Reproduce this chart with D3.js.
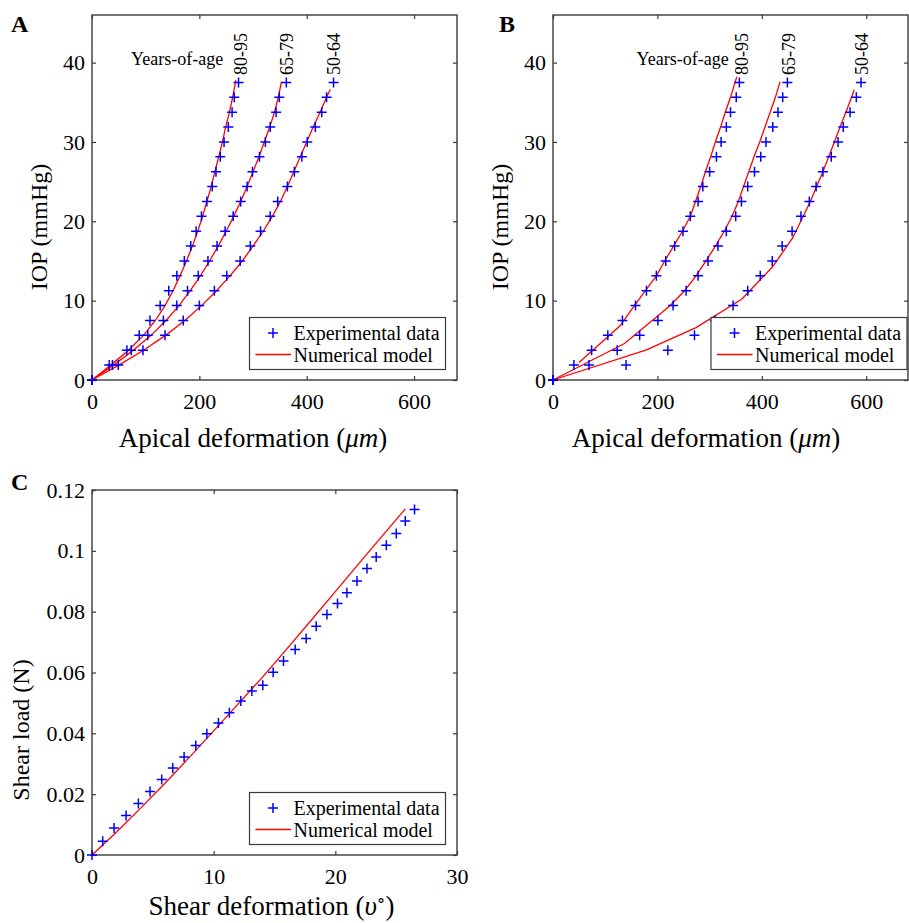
<!DOCTYPE html>
<html>
<head>
<meta charset="utf-8">
<script src="https://cdn.jsdelivr.net/npm/d3@7/dist/d3.min.js"></script>
<style>
  body { margin: 0; background: #fff; }
  text { font-family: "Liberation Serif", "Times New Roman", "DejaVu Serif", serif; fill: #000; }
</style>
</head>
<body>
<script>
// pressure steps (mmHg) of the experimental series
var iopLevels = [0, 1.875, 3.75, 5.625, 7.5, 9.375, 11.25, 13.125, 15, 16.875, 18.75,
  20.625, 22.5, 24.375, 26.25, 28.125, 30, 31.875, 33.75, 35.625, 37.5];
var ageGroups = ["80-95", "65-79", "50-64"];

// panel A - experimental apical deformation (um) per age group
var expA_8095 = [0, 32, 65, 88, 108, 127, 143, 158, 172, 184, 194, 204, 214, 224, 231, 239, 246, 254, 261, 265, 273];
var expA_6579 = [0, 38, 73, 104, 133, 158, 178, 198, 216, 233, 248, 263, 277, 289, 299, 312, 323, 332, 343, 349, 362];
var expA_5064 = [0, 49, 95, 136, 170, 200, 228, 251, 276, 295, 314, 332, 346, 364, 377, 391, 401, 416, 428, 437, 450];

// panel A - numerical model [deformation, IOP]
var modA_8095 = [[0, 0], [35, 1.875], [68, 3.75], [96, 5.625], [118, 7.5], [136, 9.375], [151, 11.25], [164, 13.125],
  [176, 15], [187, 16.875], [197, 18.75], [206, 20.625], [214, 22.5], [222, 24.375], [229, 26.25], [236, 28.125],
  [243, 30], [249, 31.875], [256, 33.75], [262, 35.625], [268, 37.8]];
var modA_6579 = [[0, 0], [40, 1.875], [77, 3.75], [110, 5.625], [138, 7.5], [162, 9.375], [183, 11.25], [202, 13.125],
  [219, 15], [235, 16.875], [250, 18.75], [264, 20.625], [277, 22.5], [289, 24.375], [300, 26.25], [311, 28.125],
  [321, 30], [331, 31.875], [340, 33.75], [347, 35.625], [353, 37.6]];
var modA_5064 = [[0, 0], [50, 1.875], [96, 3.75], [137, 5.625], [173, 7.5], [204, 9.375], [232, 11.25], [257, 13.125],
  [280, 15], [300, 16.875], [319, 18.75], [336, 20.625], [351, 22.5], [364, 24.375], [376, 26.25], [388, 28.125],
  [400, 30], [412, 31.875], [425, 33.75], [437, 35.625], [444, 36.6]];

// panel B - experimental apical deformation (um) per age group
var expB_8095 = [0, 40, 74, 105, 133, 158, 179, 198, 216, 233, 249, 263, 278, 287, 300, 313, 322, 332, 340, 351, 357];
var expB_6579 = [0, 69, 123, 166, 201, 230, 255, 278, 297, 316, 332, 350, 361, 373, 386, 398, 408, 421, 431, 440, 449];
var expB_5064 = [0, 140, 220, 271, 310, 345, 373, 397, 420, 439, 458, 475, 491, 504, 517, 533, 546, 556, 569, 581, 590];

// panel B - numerical model [deformation, IOP]
var modB_8095 = [[50, 2.2], [128, 6.8], [156, 9.375], [177, 11.25], [198, 13.125], [214, 15], [231, 16.875],
  [248, 18.75], [263, 20.625], [273, 22.5], [283, 24.375], [292, 26.25], [302, 28.125], [311, 30], [321, 31.875],
  [330, 33.75], [340, 35.625], [352, 38.2]];
var modB_6579 = [[0, 0], [137, 4.6], [223, 9.3], [252, 11.25], [274, 13.125], [293, 15], [311, 16.875], [328, 18.75],
  [343, 20.625], [355, 22.5], [365, 24.375], [375, 26.25], [385, 28.125], [396, 30], [406, 31.875], [416, 33.75],
  [426, 35.625], [435, 37.6]];
var modB_5064 = [[0, 0], [179, 3.8], [274, 6.6], [362, 10.2], [421, 14.3], [459, 17.9], [493, 22.5], [505, 24.375],
  [517, 26.25], [528, 28.125], [539, 30], [550, 31.875], [561, 33.75], [572, 35.625], [577, 36.6]];

// panel C - shear test
var shearDeg = [0, 0.88, 1.81, 2.8, 3.81, 4.77, 5.73, 6.64, 7.57, 8.53, 9.44, 10.39, 11.29, 12.23, 13.14, 14.04,
  14.89, 15.74, 16.7, 17.6, 18.43, 19.31, 20.18, 20.95, 21.78, 22.6, 23.36, 24.19, 25.01, 25.75, 26.51];
var shearLoad = [0, 0.0045, 0.0089, 0.013, 0.0169, 0.0209, 0.0248, 0.0286, 0.0322, 0.036, 0.0399, 0.0434, 0.0468,
  0.0506, 0.0539, 0.0558, 0.0601, 0.0638, 0.0676, 0.0712, 0.0752, 0.0791, 0.0827, 0.0862, 0.0901, 0.0942, 0.098,
  0.1018, 0.1057, 0.1098, 0.1136];
var modShearDeg = [0, 2, 4, 6, 8, 10, 12, 14, 16, 18, 20, 22, 24, 25.75];
var modShearLoad = [0, 0.0075, 0.0154, 0.0236, 0.0321, 0.0408, 0.0496, 0.0584, 0.0677, 0.0771, 0.0866, 0.0961, 0.1056, 0.1138];

// tick values
var iopTicks = [0, 10, 20, 30, 40];
var apicalTicks = [0, 200, 400, 600];
var shearDegTicks = [0, 10, 20, 30];
var shearLoadTicks = [0, 0.02, 0.04, 0.06, 0.08, 0.1, 0.12];

var w = 909;
var h = 923;
var axisColor = "#3a3a3a";
var serif = '"Liberation Serif", "Times New Roman", "DejaVu Serif", serif';

var svg = d3.select("body")
  .append("svg")
  .attr("width", w)
  .attr("height", h)
  .attr("font-family", serif);

// draws one boxed panel with inward ticks on all four sides
function drawFrame(p) {
  var g = svg.append("g");
  var x = p.x, y = p.y;

  g.append("g")
    .attr("transform", "translate(0," + y.range()[0] + ")")
    .call(d3.axisBottom(x).tickValues(p.xTicks).tickSizeInner(-4).tickSizeOuter(0).tickPadding(13))
    .call(styleAxis);
  g.append("g")
    .attr("transform", "translate(" + x.range()[0] + ",0)")
    .call(d3.axisLeft(y).tickValues(p.yTicks).tickSizeInner(-4).tickSizeOuter(0).tickPadding(7)
      .tickFormat(p.yFormat || null))
    .call(styleAxis);
  g.append("g")
    .attr("transform", "translate(0," + y.range()[1] + ")")
    .call(d3.axisTop(x).tickValues(p.xTicks).tickSizeInner(-4).tickSizeOuter(0).tickFormat(""))
    .call(styleAxis);
  g.append("g")
    .attr("transform", "translate(" + x.range()[1] + ",0)")
    .call(d3.axisRight(y).tickValues(p.yTicks).tickSizeInner(-4).tickSizeOuter(0).tickFormat(""))
    .call(styleAxis);

  // box
  g.append("rect")
    .attr("x", x.range()[0])
    .attr("y", y.range()[1])
    .attr("width", x.range()[1] - x.range()[0])
    .attr("height", y.range()[0] - y.range()[1])
    .attr("fill", "none")
    .attr("stroke", axisColor)
    .attr("stroke-width", 1.4);
  return g;
}

function styleAxis(sel) {
  sel.attr("font-family", serif);
  sel.select(".domain").remove();
  sel.selectAll(".tick line").attr("stroke", axisColor).attr("stroke-width", 1.2);
  sel.selectAll(".tick text")
    .attr("fill", "#000")
    .style("font-family", serif)
    .style("font-size", "22px");
}

function drawLine(pts, x, y) {
  var line = d3.line()
    .x(function(d) { return x(d[0]); })
    .y(function(d) { return y(d[1]); });
  svg.append("path")
    .datum(pts)
    .attr("d", line)
    .attr("fill", "none")
    .attr("stroke", "#ff0000")
    .attr("stroke-width", 1.3);
}

function drawMarkers(xs, ys, x, y) {
  svg.append("g")
    .selectAll("path")
    .data(xs)
    .enter()
    .append("path")
    .attr("transform", function(d, i) { return "translate(" + x(d) + "," + y(ys[i]) + ")"; })
    .attr("d", "M-5,0H5M0,-5V5")
    .attr("stroke", "#0000ff")
    .attr("stroke-width", 1.5)
    .attr("fill", "none");
}

function drawLegend(lx, ly) {
  var g = svg.append("g").attr("transform", "translate(" + lx + "," + ly + ")");
  g.append("rect")
    .attr("width", 196)
    .attr("height", 52)
    .attr("fill", "#fff")
    .attr("stroke", axisColor)
    .attr("stroke-width", 1.2);
  g.append("path")
    .attr("d", "M18.5,15.5H28.5M23.5,10.5V20.5")
    .attr("stroke", "#0000ff")
    .attr("stroke-width", 1.5);
  g.append("line")
    .attr("x1", 6).attr("x2", 41.5)
    .attr("y1", 37).attr("y2", 37)
    .attr("stroke", "#ff0000")
    .attr("stroke-width", 1.3);
  g.append("text").attr("x", 44).attr("y", 22).style("font-size", "20px").text("Experimental data");
  g.append("text").attr("x", 44).attr("y", 44.3).style("font-size", "20px").text("Numerical model");
}

function panelLetter(txt, px, py) {
  svg.append("text")
    .attr("x", px).attr("y", py)
    .style("font-size", "24px")
    .style("font-weight", "bold")
    .text(txt);
}

function yLabel(px, py, parts, size) {
  var t = svg.append("text")
    .attr("transform", "translate(" + px + "," + py + ") rotate(-90)")
    .style("text-anchor", "middle")
    .style("font-size", size + "px");
  parts.forEach(function(p) {
    t.append("tspan").style("font-style", p.italic ? "italic" : null).text(p.s);
  });
}

function xLabel(px, py, parts, size) {
  var t = svg.append("text")
    .attr("x", px).attr("y", py)
    .style("text-anchor", "middle")
    .style("font-size", size + "px");
  parts.forEach(function(p) {
    var ts = t.append("tspan").style("font-style", p.italic ? "italic" : null).text(p.s);
    if (p.sup) ts.attr("dy", -9).style("font-size", (size * 0.65) + "px");
    if (p.down) ts.attr("dy", 9);
  });
}

// age labels written upward above each curve
function ageLabels(xs) {
  xs.forEach(function(bx, i) {
    svg.append("text")
      .attr("transform", "translate(" + bx + ",75) rotate(-90)")
      .style("font-size", "18px")
      .text(ageGroups[i]);
  });
}

// ---------- panel A ----------
var xA = d3.scaleLinear().domain([0, 680]).range([92, 457]);
var yA = d3.scaleLinear().domain([0, 46]).range([380, 15]);
drawFrame({ x: xA, y: yA, xTicks: apicalTicks, yTicks: iopTicks });
[modA_8095, modA_6579, modA_5064].forEach(function(m) { drawLine(m, xA, yA); });
[expA_8095, expA_6579, expA_5064].forEach(function(e) { drawMarkers(e, iopLevels, xA, yA); });
svg.append("text").attr("x", 131).attr("y", 65).style("font-size", "18px").text("Years-of-age");
ageLabels([246.5, 293.3, 340]);
drawLegend(249.5, 317.5);
panelLetter("A", 11, 31.5);
yLabel(46.5, 227, [{ s: "IOP (mmHg)" }], 24);
xLabel(253, 447, [{ s: "Apical deformation (" }, { s: "\u03bcm", italic: true }, { s: ")" }], 27);

// ---------- panel B ----------
var xB = d3.scaleLinear().domain([0, 680]).range([553, 908]);
var yB = d3.scaleLinear().domain([0, 46]).range([380, 15]);
drawFrame({ x: xB, y: yB, xTicks: apicalTicks, yTicks: iopTicks });
[modB_8095, modB_6579, modB_5064].forEach(function(m) { drawLine(m, xB, yB); });
[expB_8095, expB_6579, expB_5064].forEach(function(e) { drawMarkers(e, iopLevels, xB, yB); });
svg.append("text").attr("x", 636.5).attr("y", 65).style("font-size", "18px").text("Years-of-age");
ageLabels([748.3, 795, 868.3]);
drawLegend(711, 317.5);
panelLetter("B", 499, 31.5);
yLabel(507.5, 227, [{ s: "IOP (mmHg)" }], 24);
xLabel(706, 447, [{ s: "Apical deformation (" }, { s: "\u03bcm", italic: true }, { s: ")" }], 27);

// ---------- panel C ----------
var xC = d3.scaleLinear().domain([0, 30]).range([92, 457]);
var yC = d3.scaleLinear().domain([0, 0.12]).range([855, 490]);
drawFrame({ x: xC, y: yC, xTicks: shearDegTicks, yTicks: shearLoadTicks,
  yFormat: function(d) { return String(d); } });
drawLine(modShearDeg.map(function(d, i) { return [d, modShearLoad[i]]; }), xC, yC);
drawMarkers(shearDeg, shearLoad, xC, yC);
drawLegend(249.5, 792.5);
panelLetter("C", 11, 490);
yLabel(29, 730, [{ s: "Shear load (N)" }], 24);
xLabel(271.5, 915, [{ s: "Shear deformation (" }, { s: "\u03c5", italic: true }, { s: "\u2218", sup: true },
  { s: ")", down: true }], 27);
</script>
</body>
</html>
